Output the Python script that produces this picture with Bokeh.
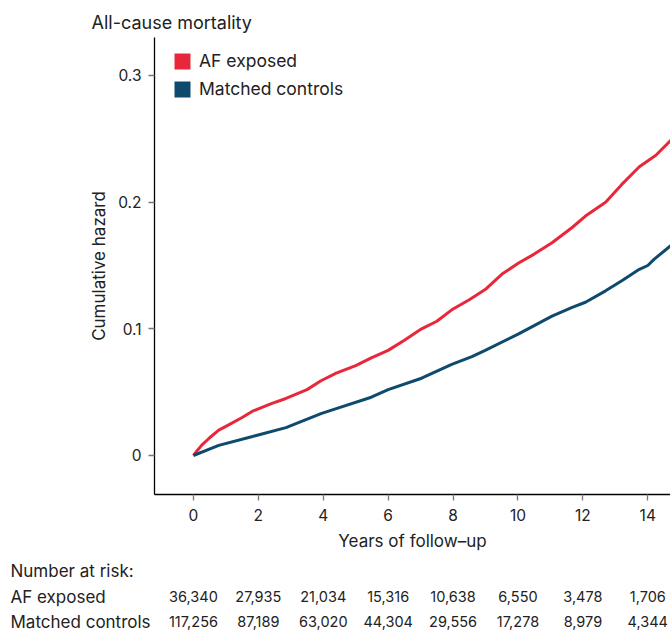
from bokeh.plotting import figure
from bokeh.layouts import column
from bokeh.models import Range1d, Legend, LegendItem, FixedTicker, Title
from bokeh.embed import file_html
from bokeh.resources import INLINE

# ---------------- data ----------------
title_text = "All-cause mortality"
series_names = ["AF exposed", "Matched controls"]
series_colors = ["#E8283A", "#0E4A6E"]

af_years = [0, 0.12, 0.25, 0.5, 0.78, 1.0, 1.5, 1.82, 2.4, 2.85, 3.5, 3.93, 4.4, 5.0, 5.48,
            6.0, 6.5, 7.03, 7.5, 7.96, 8.5, 8.99, 9.5, 10.02, 10.5, 11.05, 11.67, 12.08,
            12.7, 13.2, 13.74, 14.25, 14.72, 14.9]
af_hazard = [0, 0.004, 0.008, 0.014, 0.020, 0.023, 0.030, 0.035, 0.041, 0.045, 0.052, 0.059,
             0.065, 0.071, 0.077, 0.083, 0.091, 0.100, 0.106, 0.115, 0.123, 0.131, 0.143,
             0.152, 0.159, 0.168, 0.180, 0.189, 0.200, 0.214, 0.228, 0.237, 0.249, 0.252]

ctrl_years = [0, 0.78, 1.82, 2.85, 3.93, 4.4, 5.48, 6.0, 7.03, 7.96, 8.58, 8.99, 10.02,
              11.05, 11.67, 12.08, 12.7, 13.2, 13.74, 14.0, 14.2, 14.77, 14.9]
ctrl_hazard = [0, 0.008, 0.015, 0.022, 0.033, 0.037, 0.046, 0.052, 0.061, 0.072, 0.078,
               0.083, 0.096, 0.110, 0.117, 0.121, 0.130, 0.138, 0.147, 0.150, 0.155, 0.167, 0.169]

risk_title = "Number at risk:"
risk_years = [0, 2, 4, 6, 8, 10, 12, 14]
af_at_risk = ["36,340", "27,935", "21,034", "15,316", "10,638", "6,550", "3,478", "1,706"]
ctrl_at_risk = ["117,256", "87,189", "63,020", "44,304", "29,556", "17,278", "8,979", "4,344"]

x_ticks = [0, 2, 4, 6, 8, 10, 12, 14]
y_ticks = [0, 0.1, 0.2, 0.3]
y_tick_labels = ["0", "0.1", "0.2", "0.3"]
x_label = "Years of follow\u2013up"
y_label = "Cumulative hazard"

# ---------------- layout constants ----------------
FONT = "Inter"
TXT = "#222222"
W = 670
H1 = 560
H2 = 632 - H1
LEFT = 154          # frame left (px)
TOP = 37            # frame top (px)
BOTTOM = 494        # frame bottom (px)
X0, X1 = -1.20, 14.70
Y0, Y1 = -0.0308, 0.330

p = figure(width=W, height=H1, output_backend="svg", toolbar_location=None,
           x_range=Range1d(X0, X1), y_range=Range1d(Y0, Y1),
           min_border_left=LEFT, min_border_right=0, min_border_top=TOP,
           min_border_bottom=H1 - BOTTOM)
p.frame_align = False
p.outline_line_color = None
p.grid.visible = False

for ax in (p.xaxis[0], p.yaxis[0]):
    ax.axis_line_color = "black"
    ax.axis_line_width = 1.3
    ax.major_tick_line_color = "#777777"
    ax.major_tick_line_width = 1.3
    ax.major_tick_out = 6
    ax.major_tick_in = 0
    ax.minor_tick_line_color = None
    ax.major_label_text_font = FONT
    ax.major_label_text_font_size = "15.5px"
    ax.major_label_text_color = TXT
    ax.axis_label_text_font = FONT
    ax.axis_label_text_font_size = "17px"
    ax.axis_label_text_font_style = "normal"
    ax.axis_label_text_color = TXT

p.xaxis.ticker = FixedTicker(ticks=x_ticks)
p.yaxis.ticker = FixedTicker(ticks=y_ticks)
p.yaxis.major_label_overrides = {t: s for t, s in zip(y_ticks, y_tick_labels)}
p.xaxis.axis_label = x_label
p.yaxis.axis_label = y_label
p.xaxis.major_label_standoff = 8
p.xaxis.axis_label_standoff = 7
p.yaxis.major_label_standoff = 7
p.yaxis.axis_label_standoff = 6

# title
p.add_layout(Title(text=title_text, text_font=FONT, text_font_size="18px",
                   text_font_style="normal", text_color=TXT, align="left",
                   offset=91 - LEFT, standoff=9), "above")

# curves
p.line(af_years, af_hazard, line_color=series_colors[0], line_width=3)
p.line(ctrl_years, ctrl_hazard, line_color=series_colors[1], line_width=3)

# legend (square swatches from zero-size quads at the curves' origin)
items = []
for name, col, xs, ys in zip(series_names, series_colors, [af_years, ctrl_years],
                             [af_hazard, ctrl_hazard]):
    r = p.quad(left=[xs[0]], right=[xs[0]], top=[ys[0]], bottom=[ys[0]],
               fill_color=col, line_color=None)
    items.append(LegendItem(label=name, renderers=[r]))
legend = Legend(items=items, location=(18, 395), margin=0, padding=0,
                glyph_width=20, glyph_height=20, label_height=20, spacing=7,
                label_standoff=7, label_text_font=FONT, label_text_font_size="17.5px",
                label_text_color=TXT, border_line_color=None, background_fill_alpha=0)
p.add_layout(legend)

# ---------------- number-at-risk table ----------------
px_per_year = (W - LEFT) / (X1 - X0)
t = figure(width=W, height=H2, output_backend="svg", toolbar_location=None,
           x_range=Range1d(X0 - LEFT / px_per_year, X1), y_range=Range1d(0, H2),
           x_axis_type=None, y_axis_type=None,
           min_border_left=0, min_border_right=0, min_border_top=0, min_border_bottom=0)
t.frame_align = False
t.outline_line_color = None
t.grid.visible = False

x_lab = X0 - (LEFT - 10) / px_per_year
row_y = [H2 - (570 - H1), H2 - (596 - H1), H2 - (621 - H1)]
t.text(x=[x_lab], y=[row_y[0]], text=[risk_title], text_font={"value": FONT},
       text_font_size="17px", text_color=TXT, text_baseline="middle", text_align="left")
for yy, name, vals in zip(row_y[1:], series_names, [af_at_risk, ctrl_at_risk]):
    t.text(x=[x_lab], y=[yy], text=[name], text_font={"value": FONT},
           text_font_size="17px", text_color=TXT, text_baseline="middle", text_align="left")
    t.text(x=risk_years, y=[yy] * len(vals), text=vals, text_font={"value": FONT},
           text_font_size="14.5px", text_color=TXT, text_baseline="middle",
           text_align="center")

layout = column(p, t, spacing=0)
open("out.html", "w").write(file_html(layout, INLINE))
